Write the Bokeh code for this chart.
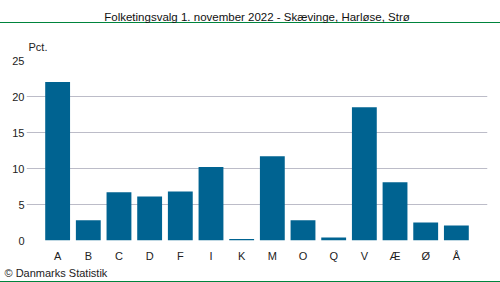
from bokeh.plotting import figure
from bokeh.models import FactorRange, Range1d, FixedTicker, Title
from bokeh.embed import file_html
from bokeh.resources import INLINE

categories = ["A", "B", "C", "D", "F", "I", "K", "M", "O", "Q", "V", "Æ", "Ø", "Å"]
values = [22.0, 2.8, 6.7, 6.1, 6.8, 10.2, 0.2, 11.7, 2.8, 0.4, 18.5, 8.1, 2.5, 2.1]
y_ticks = [0, 5, 10, 15, 20, 25]
title_text = "Folketingsvalg 1. november 2022 - Skævinge, Harløse, Strø"
unit_text = "Pct."
source_text = "© Danmarks Statistik"

FONT = "Liberation Sans"
GREEN = "#00843d"

p = figure(width=500, height=282, output_backend="svg", toolbar_location=None,
           x_range=FactorRange(*categories, range_padding=0.515, range_padding_units="absolute"),
           y_range=Range1d(0, 25),
           min_border_left=26, min_border_right=13, min_border_top=60, min_border_bottom=42)

p.vbar(x=categories, top=values, width=0.81, color="#006391", line_color=None)

p.outline_line_color = None
p.background_fill_color = "white"
p.border_fill_color = None
p.styles = {
    "background-color": "white",
    "background-image": f"linear-gradient({GREEN}, {GREEN}), linear-gradient({GREEN}, {GREEN})",
    "background-size": "100% 1px, 100% 1px",
    "background-position": "0 22px, 0 281px",
    "background-repeat": "no-repeat",
}
p.xgrid.grid_line_color = None
p.ygrid.grid_line_color = "#bcbcc8"
p.ygrid.grid_line_width = 1
p.yaxis.ticker = FixedTicker(ticks=y_ticks)
p.yaxis.major_label_standoff = 2
p.xaxis.major_label_standoff = 9
for ax in (p.xaxis, p.yaxis):
    ax.axis_line_color = None
    ax.major_tick_line_color = None
    ax.minor_tick_line_color = None
    ax.major_tick_out = 0
    ax.major_tick_in = 0
    ax.minor_tick_out = 0
    ax.minor_tick_in = 0
    ax.major_label_text_font = FONT
    ax.major_label_text_font_size = "11px"
    ax.major_label_text_color = "#222222"

p.title = Title(text=title_text, align="center", vertical_align="middle", text_font=FONT,
                text_font_size="11.5px", text_font_style="normal", text_color="#111111",
                offset=0, standoff=13)
p.add_layout(Title(text=unit_text, align="left", text_font=FONT, text_font_size="11px",
                   text_font_style="normal", text_color="#222222", offset=2, standoff=16), "above")
p.add_layout(Title(text=source_text, align="left", text_font=FONT, text_font_size="11px",
                   text_font_style="normal", text_color="#222222", offset=-22, standoff=0), "below")

open("out.html", "w").write(file_html(p, INLINE))
